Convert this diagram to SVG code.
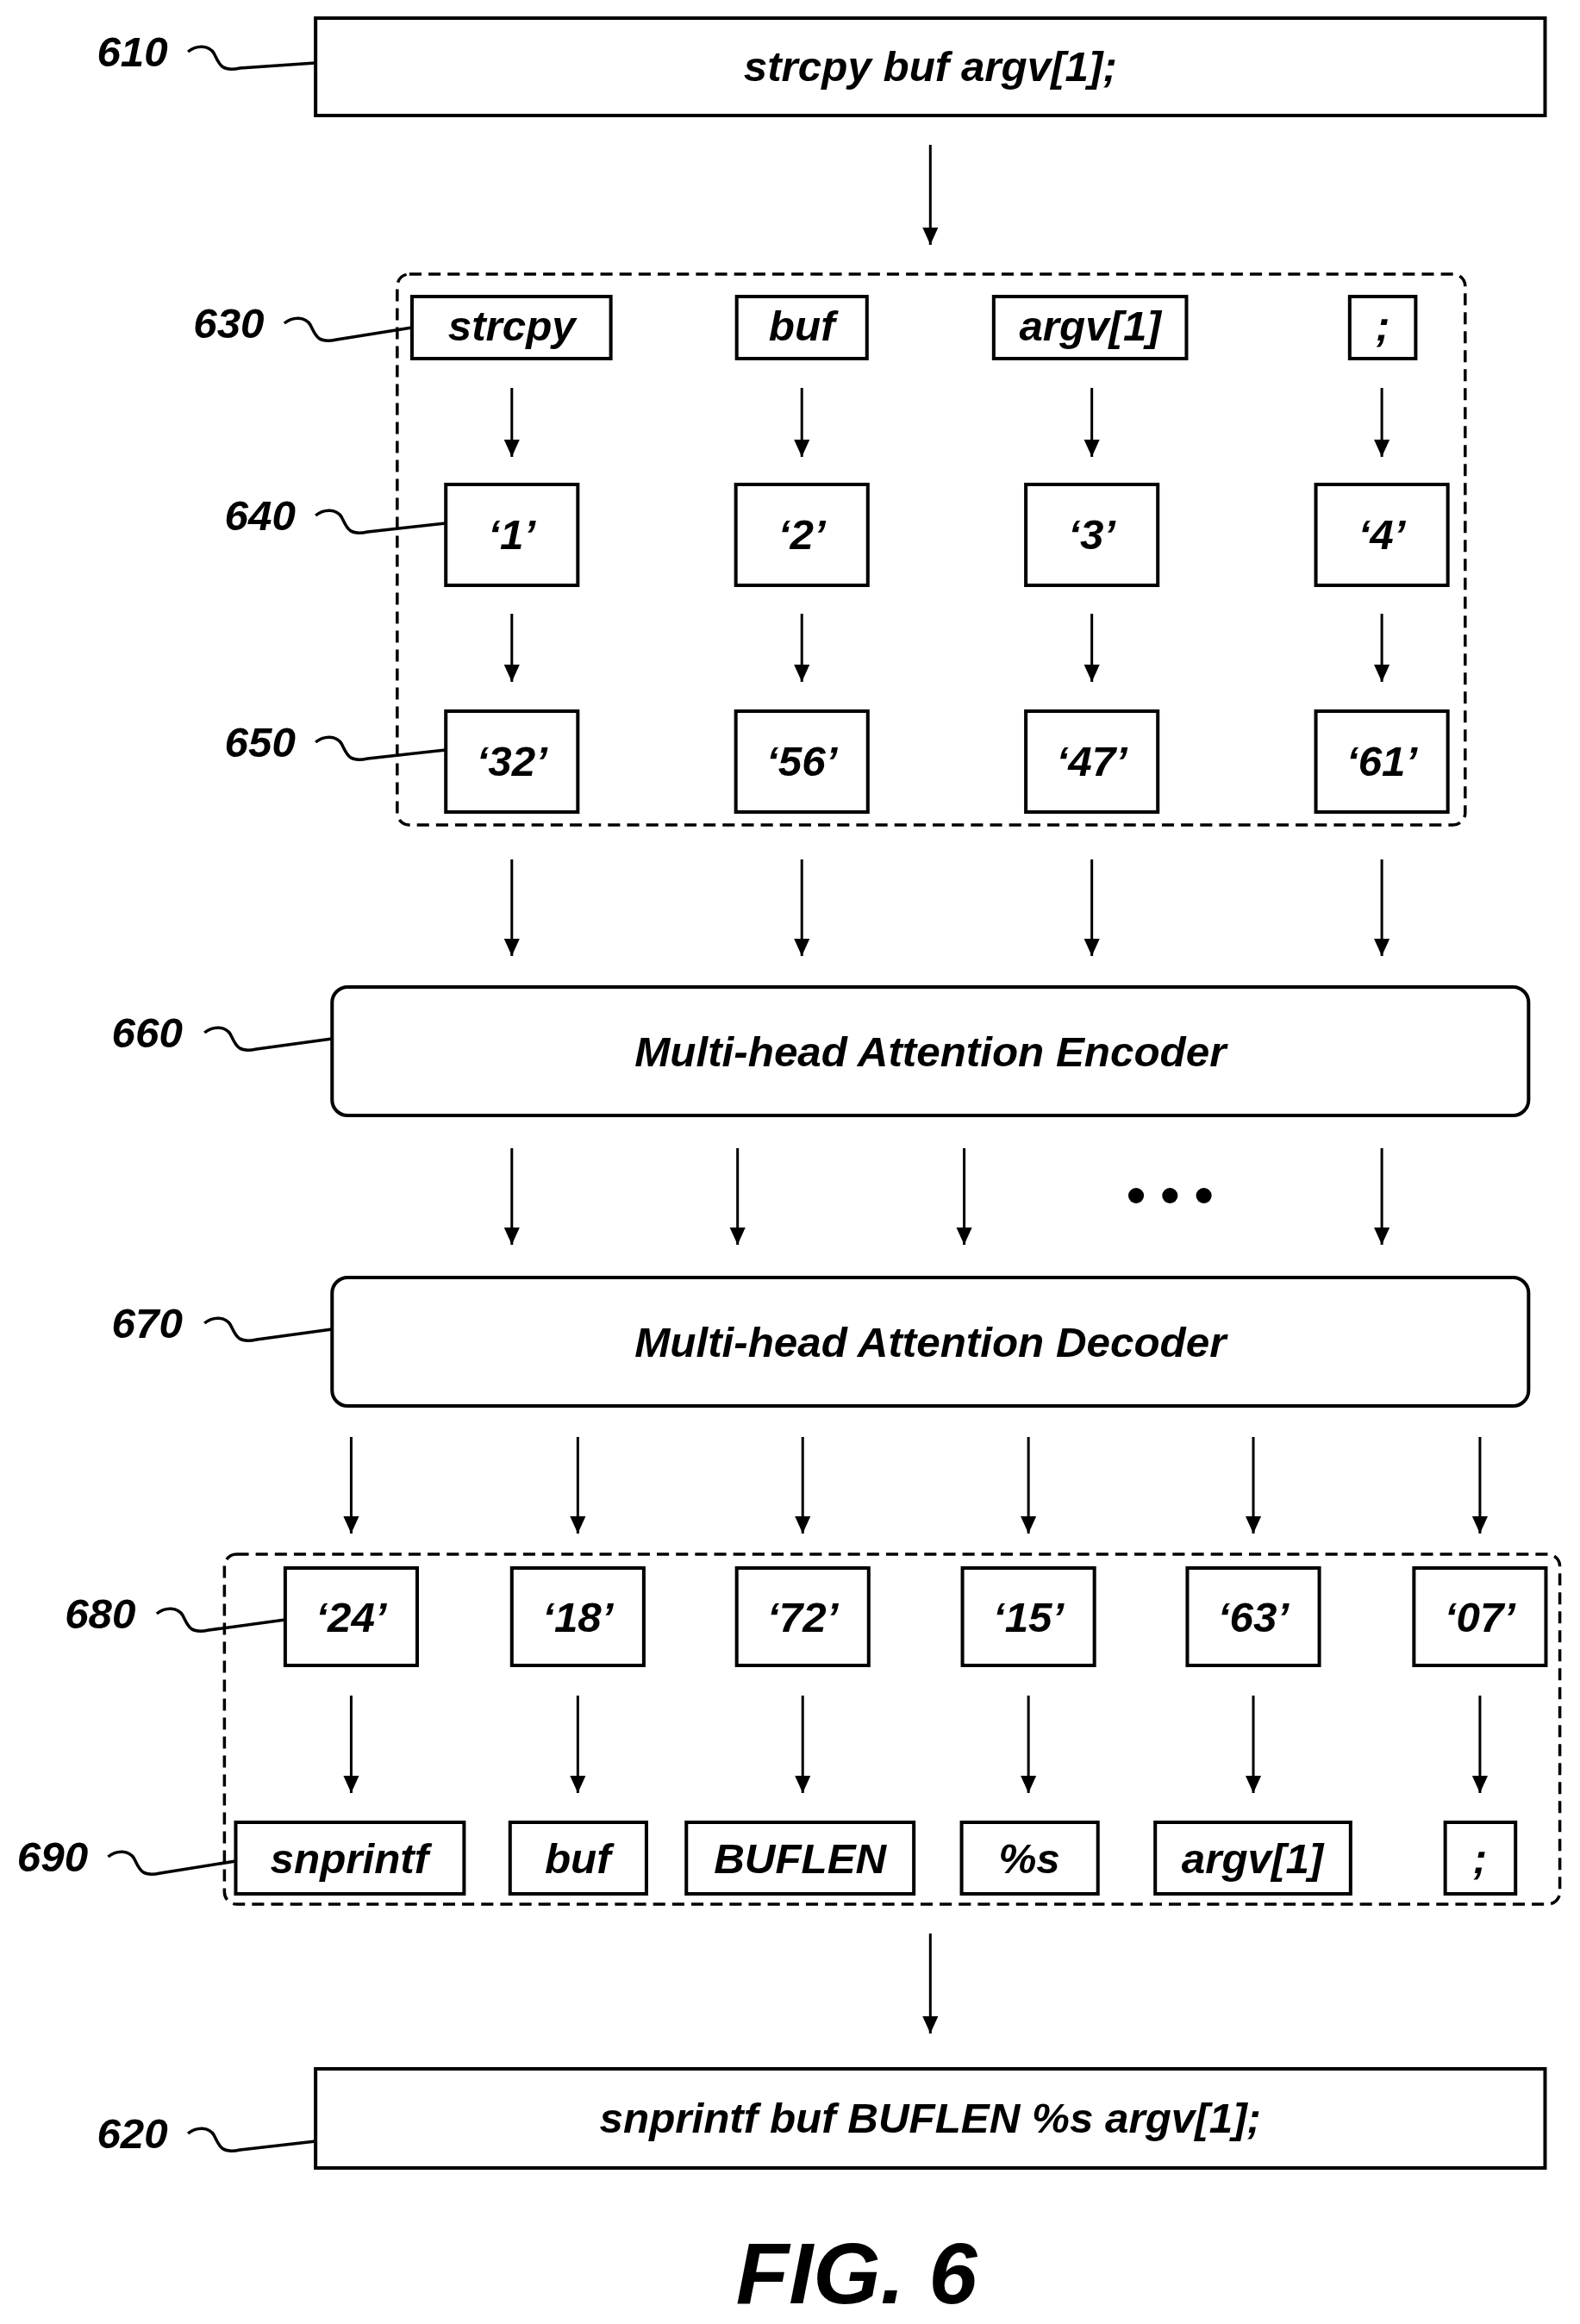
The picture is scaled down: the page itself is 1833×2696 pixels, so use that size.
<svg xmlns="http://www.w3.org/2000/svg" width="1833" height="2696" viewBox="0 0 1833 2696">
<style>
.b{fill:#fff;stroke:#000;stroke-width:4}
.d{fill:none;stroke:#000;stroke-width:3.5;stroke-dasharray:14 8}
.t{font-family:"Liberation Sans",Arial,sans-serif;font-style:italic;font-weight:bold;font-size:49px;text-anchor:middle;dominant-baseline:central;fill:#000}
.l{font-family:"Liberation Sans",Arial,sans-serif;font-style:italic;font-weight:bold;font-size:49px;text-anchor:middle;dominant-baseline:central;fill:#000}
.c line{stroke:#000;stroke-width:3;marker-end:url(#a2)}
.s{fill:none;stroke:#000;stroke-width:3.5}
</style>
<defs>
<marker id="a2" markerWidth="22" markerHeight="22" refX="20" refY="11" orient="auto" markerUnits="userSpaceOnUse"><path d="M0,2 L20,11 L0,20z"/></marker></defs>
<g transform="matrix(1.0073 0 0 1 2.5 0)">
<g id="g1"><rect class="d" x="455" y="318" width="1230" height="639" rx="14"/></g>
<g id="g2"><rect class="d" x="256" y="1803" width="1538" height="406" rx="14"/></g>

<g id="n610"><rect class="b" x="361" y="21" width="1416" height="113"/><text class="t" x="1069" y="77">strcpy buf argv[1];</text><text class="l" x="150" y="60">610</text><path class="s" d="M214,60 c10,-8 24,-8 30,2 c6,12 8,22 30,17 l87,-6"/></g>

<g id="n630"><rect class="b" x="472" y="344" width="229" height="72"/><text class="t" x="587" y="378">strcpy</text>
<rect class="b" x="846" y="344" width="150" height="72"/><text class="t" x="921" y="378">buf</text>
<rect class="b" x="1142" y="344" width="222" height="72"/><text class="t" x="1253" y="378">argv[1]</text>
<rect class="b" x="1552" y="344" width="76" height="72"/><text class="t" x="1590" y="378">;</text>
<text class="l" x="261" y="375">630</text><path class="s" d="M325,375 c10,-8 24,-8 30,2 c6,12 8,22 30,17 l87,-14"/></g>

<g id="n640"><rect class="b" x="511" y="562" width="152" height="117"/><text class="t" x="587" y="620">‘1’</text>
<rect class="b" x="845" y="562" width="152" height="117"/><text class="t" x="921" y="620">‘2’</text>
<rect class="b" x="1179" y="562" width="152" height="117"/><text class="t" x="1255" y="620">‘3’</text>
<rect class="b" x="1513" y="562" width="152" height="117"/><text class="t" x="1589" y="620">‘4’</text>
<text class="l" x="297" y="598">640</text><path class="s" d="M361,598 c10,-8 24,-8 30,2 c6,12 8,22 30,17 l90,-10"/></g>

<g id="n650"><rect class="b" x="511" y="825" width="152" height="117"/><text class="t" x="587" y="883">‘32’</text>
<rect class="b" x="845" y="825" width="152" height="117"/><text class="t" x="921" y="883">‘56’</text>
<rect class="b" x="1179" y="825" width="152" height="117"/><text class="t" x="1255" y="883">‘47’</text>
<rect class="b" x="1513" y="825" width="152" height="117"/><text class="t" x="1589" y="883">‘61’</text>
<text class="l" x="297" y="861">650</text><path class="s" d="M361,861 c10,-8 24,-8 30,2 c6,12 8,22 30,17 l90,-10"/></g>

<g id="n660"><rect class="b" x="380" y="1145" width="1378" height="149" rx="18"/><text class="t" x="1069" y="1220">Multi-head Attention Encoder</text><text class="l" x="167" y="1198">660</text><path class="s" d="M233,1198 c10,-8 24,-8 30,2 c6,12 8,22 30,17 l87,-12"/></g>

<g id="n670"><rect class="b" x="380" y="1482" width="1378" height="149" rx="18"/><text class="t" x="1069" y="1557">Multi-head Attention Decoder</text><text class="l" x="167" y="1535">670</text><path class="s" d="M233,1535 c10,-8 24,-8 30,2 c6,12 8,22 30,17 l87,-12"/></g>

<g id="n680">
<rect class="b" x="326" y="1819" width="152" height="113"/><text class="t" x="402" y="1876">‘24’</text>
<rect class="b" x="587" y="1819" width="152" height="113"/><text class="t" x="663" y="1876">‘18’</text>
<rect class="b" x="846" y="1819" width="152" height="113"/><text class="t" x="922" y="1876">‘72’</text>
<rect class="b" x="1106" y="1819" width="152" height="113"/><text class="t" x="1182" y="1876">‘15’</text>
<rect class="b" x="1365" y="1819" width="152" height="113"/><text class="t" x="1441" y="1876">‘63’</text>
<rect class="b" x="1626" y="1819" width="152" height="113"/><text class="t" x="1702" y="1876">‘07’</text>
<text class="l" x="113" y="1872">680</text><path class="s" d="M178,1872 c10,-8 24,-8 30,2 c6,12 8,22 30,17 l88,-12"/></g>

<g id="n690">
<rect class="b" x="269" y="2114" width="263" height="83"/><text class="t" x="400" y="2156">snprintf</text>
<rect class="b" x="585" y="2114" width="157" height="83"/><text class="t" x="663" y="2156">buf</text>
<rect class="b" x="788" y="2114" width="262" height="83"/><text class="t" x="919" y="2156">BUFLEN</text>
<rect class="b" x="1105" y="2114" width="157" height="83"/><text class="t" x="1183" y="2156">%s</text>
<rect class="b" x="1328" y="2114" width="225" height="83"/><text class="t" x="1440" y="2156">argv[1]</text>
<rect class="b" x="1662" y="2114" width="81" height="83"/><text class="t" x="1702" y="2156">;</text>
<text class="l" x="58" y="2154">690</text><path class="s" d="M122,2154 c10,-8 24,-8 30,2 c6,12 8,22 30,17 l87,-14"/></g>

<g id="n620"><rect class="b" x="361" y="2400" width="1416" height="115"/><text class="t" x="1069" y="2457">snprintf buf BUFLEN %s argv[1];</text><text class="l" x="150" y="2475">620</text><path class="s" d="M214,2475 c10,-8 24,-8 30,2 c6,12 8,22 30,17 l87,-10"/></g>

<g id="dots"><circle cx="1306" cy="1387" r="9"/><circle cx="1345" cy="1387" r="9"/><circle cx="1384" cy="1387" r="9"/></g>

<g id="connectors" class="c">
<line x1="1069" y1="168" x2="1069" y2="284"/>
<line x1="587" y1="450" x2="587" y2="530"/><line x1="921" y1="450" x2="921" y2="530"/><line x1="1255" y1="450" x2="1255" y2="530"/><line x1="1589" y1="450" x2="1589" y2="530"/>
<line x1="587" y1="712" x2="587" y2="791"/><line x1="921" y1="712" x2="921" y2="791"/><line x1="1255" y1="712" x2="1255" y2="791"/><line x1="1589" y1="712" x2="1589" y2="791"/>
<line x1="587" y1="997" x2="587" y2="1109"/><line x1="921" y1="997" x2="921" y2="1109"/><line x1="1255" y1="997" x2="1255" y2="1109"/><line x1="1589" y1="997" x2="1589" y2="1109"/>
<line x1="587" y1="1332" x2="587" y2="1444"/><line x1="847" y1="1332" x2="847" y2="1444"/><line x1="1108" y1="1332" x2="1108" y2="1444"/><line x1="1589" y1="1332" x2="1589" y2="1444"/>
<line x1="402" y1="1667" x2="402" y2="1779"/><line x1="663" y1="1667" x2="663" y2="1779"/><line x1="922" y1="1667" x2="922" y2="1779"/><line x1="1182" y1="1667" x2="1182" y2="1779"/><line x1="1441" y1="1667" x2="1441" y2="1779"/><line x1="1702" y1="1667" x2="1702" y2="1779"/>
<line x1="402" y1="1967" x2="402" y2="2080"/><line x1="663" y1="1967" x2="663" y2="2080"/><line x1="922" y1="1967" x2="922" y2="2080"/><line x1="1182" y1="1967" x2="1182" y2="2080"/><line x1="1441" y1="1967" x2="1441" y2="2080"/><line x1="1702" y1="1967" x2="1702" y2="2080"/>
<line x1="1069" y1="2243" x2="1069" y2="2359"/>
</g>

<text x="984" y="2672" style="font-family:'Liberation Sans',Arial,sans-serif;font-style:italic;font-weight:bold;font-size:100px;text-anchor:middle">FIG. 6</text>
</g>
</svg>
